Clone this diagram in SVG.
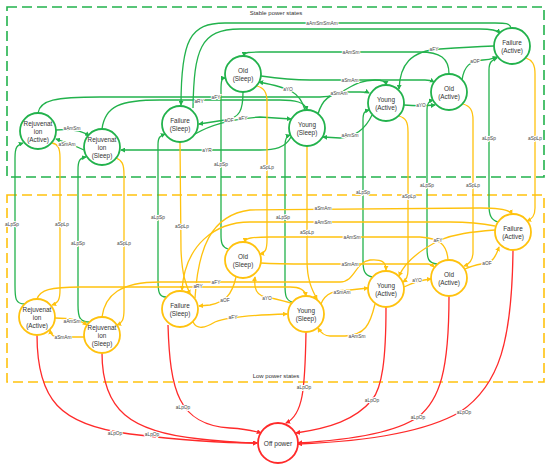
<svg xmlns="http://www.w3.org/2000/svg" width="550" height="464" viewBox="0 0 550 464">
<defs>
<style>
.nd circle{fill:#fff;stroke-width:1.8}
.gn circle{stroke:#22b24c}
.yn circle{stroke:#ffc20e}
.rn circle{stroke:#ff2a2a}
.c path{fill:none;stroke-width:1.3}
.c .g{stroke:#22b24c;marker-end:url(#ag)}
.c .y{stroke:#ffc20e;marker-end:url(#ay)}
.c .r{stroke:#ff2a2a;marker-end:url(#ar)}
text{font-family:"Liberation Sans",Arial,sans-serif;fill:#333}
.nl{font-size:6.4px;text-anchor:middle}
.el{font-size:4.8px;text-anchor:middle;fill:#444;paint-order:stroke;stroke:#fff;stroke-width:1.8px}
.bx{fill:none;stroke-width:1.6;stroke-dasharray:10 5}
.bl{font-size:6px;text-anchor:middle}
</style>
<marker id="ag" viewBox="0 0 6 6" refX="5" refY="3" markerWidth="5" markerHeight="5" markerUnits="userSpaceOnUse" orient="auto"><path d="M0,0 L6,3 L0,6 z" fill="#22b24c"/></marker>
<marker id="ay" viewBox="0 0 6 6" refX="5" refY="3" markerWidth="5" markerHeight="5" markerUnits="userSpaceOnUse" orient="auto"><path d="M0,0 L6,3 L0,6 z" fill="#ffc20e"/></marker>
<marker id="ar" viewBox="0 0 6 6" refX="5" refY="3" markerWidth="5" markerHeight="5" markerUnits="userSpaceOnUse" orient="auto"><path d="M0,0 L6,3 L0,6 z" fill="#ff2a2a"/></marker>
</defs>
<rect width="550" height="464" fill="#fff"/>
<g id="groups">
<rect class="bx" x="7" y="7" width="537" height="170" stroke="#22b24c"/>
<text class="bl" x="276" y="15">Stable power states</text>
<rect class="bx" x="7" y="195" width="537" height="187" stroke="#ffc20e"/>
<text class="bl" x="276" y="378">Low power states</text>
</g>
<g id="connectors" class="c">
<!-- top (stable) transitions -->
<path class="g" d="M56,130 C70,129 82,130 89,136"/>
<path class="g" d="M84,150 C76,146 66,142 56,139"/>
<path class="g" d="M38,113 C40,100 55,97 100,97 L320,97 C345,97 350,80 375,80 C383,80 386,82 386,85"/>
<path class="g" d="M102,129 C105,106 120,100 160,100 L280,100 C295,100 305,102 307,110"/>
<path class="g" d="M193,108 C194,50 200,29 240,29 L480,29 C492,29 497,30 500,33"/>
<path class="g" d="M511,28 C510,23 505,23 495,23 L225,23 C190,23 181,40 181,105"/>
<path class="g" d="M449,74 C449,58 440,52 420,52 L260,52 C250,52 244,52 244,56"/>
<path class="g" d="M261,76 C275,78 290,80 310,80 L425,80 C430,80 432,81 434,82"/>
<path class="g" d="M318,114 C322,100 330,93 345,92 L360,92 C365,92 367,92 369,93"/>
<path class="g" d="M372,115 C365,130 355,137 340,138 L323,137"/>
<path class="g" d="M404,105 C415,106 425,106 435,105"/>
<path class="g" d="M462,80 C464,66 470,61 483,60 C490,60 494,58 497,57"/>
<path class="g" d="M494,46 C470,47 455,48 440,49 C410,51 400,65 399,89"/>
<path class="g" d="M243,92 C243,110 240,118 225,120 L199,124"/>
<path class="g" d="M195,134 C210,125 230,119 260,117 L291,119"/>
<path class="g" d="M305,110 C300,92 290,88 259,82"/>
<path class="g" d="M291,137 C285,148 275,150 260,150 L121,150"/>
<!-- low -> stable -->
<path class="g" d="M25,304 C15,304 15,298 15,285 L15,158 C15,147 17,145 23,143"/>
<path class="g" d="M90,322 C80,322 78,318 78,305 L78,170 C78,160 80,158 86,157"/>
<path class="g" d="M166,297 C159,297 158,292 158,280 L158,145 C158,137 160,136 165,134"/>
<path class="g" d="M228,249 C222,247 221,243 221,235 L221,90 C221,80 222,78 225,78"/>
<path class="g" d="M292,302 C286,300 285,296 285,285 L285,145 C285,138 287,136 290,135"/>
<path class="g" d="M372,277 C364,275 363,270 363,260 L363,120 C363,112 365,111 369,110"/>
<path class="g" d="M437,264 C428,263 427,258 427,248 L427,110 C427,103 429,101 433,100"/>
<path class="g" d="M498,222 C491,220 489,215 489,205 L489,70 C489,62 492,60 497,58"/>
<!-- stable -> low -->
<path class="y" d="M52,143 C58,144 60,148 60,158 L60,290 C60,300 58,303 52,305"/>
<path class="y" d="M116,158 C122,160 124,164 124,175 L124,310 C124,320 122,323 117,325"/>
<path class="y" d="M180,142 L181,250 C182,275 186,285 190,294"/>
<path class="y" d="M257,86 C264,88 267,92 267,102 L267,240 C267,250 265,253 260,254"/>
<path class="y" d="M307,146 L307,260 C307,280 312,290 317,299"/>
<path class="y" d="M399,116 C406,118 408,122 408,132 L408,270 C408,277 406,280 403,282"/>
<path class="y" d="M463,104 C470,106 473,110 473,120 L473,252 C473,260 470,264 464,266"/>
<path class="y" d="M526,58 C532,60 535,64 535,74 L535,208 C535,216 532,219 527,221"/>
<!-- low power transitions -->
<path class="y" d="M55,318 C70,318 80,320 87,325"/>
<path class="y" d="M84,337 L60,337 C53,337 51,335 50,330"/>
<path class="y" d="M37,299 C40,290 50,287 80,287 L290,287 C300,287 305,290 306,296"/>
<path class="y" d="M102,317 C105,295 120,282 160,282 L340,282 C355,282 355,262 370,260 C382,259 386,262 386,270"/>
<path class="y" d="M495,226 C480,223 470,222 450,222 L250,222 C215,222 185,245 182,290"/>
<path class="y" d="M195,298 C198,250 210,215 250,210 L480,208 C500,208 510,210 512,214"/>
<path class="y" d="M236,277 C232,295 225,302 210,305 L199,306"/>
<path class="y" d="M193,322 C197,330 205,328 215,322 C225,318 250,315 287,314"/>
<path class="y" d="M291,303 C280,300 272,298 262,296 C255,293 254,285 255,277"/>
<path class="y" d="M448,260 C447,245 440,238 420,237 L270,237 C252,237 245,238 245,242"/>
<path class="y" d="M261,263 C275,264 290,264 310,264 L428,264 C431,264 432,265 434,267"/>
<path class="y" d="M321,304 C325,293 335,290 350,290 L368,288"/>
<path class="y" d="M375,304 C370,325 365,335 345,336 L330,336 C325,336 321,333 318,328"/>
<path class="y" d="M404,287 C412,283 420,280 431,279"/>
<path class="y" d="M465,269 C475,264 485,264 490,262 C496,258 497,252 499,247"/>
<path class="y" d="M495,230 C470,232 455,234 440,240 C420,250 405,262 399,276"/>
<!-- to off power -->
<path class="r" d="M37,335 C37,400 60,425 130,434 C180,440 225,443 257,443"/>
<path class="r" d="M102,353 C102,410 130,432 200,439 C230,442 245,443 257,443"/>
<path class="r" d="M168,325 C170,390 178,425 230,428 C245,429 252,430 261,433"/>
<path class="r" d="M306,332 C305,390 303,415 286,423"/>
<path class="r" d="M386,307 C386,360 382,388 372,400 C355,420 330,428 296,433"/>
<path class="r" d="M449,296 C449,370 440,400 418,417 C395,433 350,440 298,443"/>
<path class="r" d="M513,250 C512,340 500,385 460,412 C420,435 350,442 298,444"/>
<!-- labels -->
<text class="el" x="72" y="130">aAmSm</text>
<text class="el" x="67" y="146">aSmAm</text>
<text class="el" x="199" y="103">aRY</text>
<text class="el" x="216" y="99">aFY</text>
<text class="el" x="322" y="25">aAmSmSmAm</text>
<text class="el" x="351" y="54">aAmSm</text>
<text class="el" x="350" y="82">aSmAm</text>
<text class="el" x="339" y="95">aSmAm</text>
<text class="el" x="350" y="137">aAmSm</text>
<text class="el" x="421" y="107">aYO</text>
<text class="el" x="475" y="63">aOF</text>
<text class="el" x="434" y="51">aFY</text>
<text class="el" x="229" y="122">aOF</text>
<text class="el" x="243" y="120">aFY</text>
<text class="el" x="288" y="91">aYO</text>
<text class="el" x="207" y="152">aYR</text>
<text class="el" x="12" y="226">aLpSp</text>
<text class="el" x="78" y="245">aLpSp</text>
<text class="el" x="158" y="219">aLpSp</text>
<text class="el" x="221" y="166">aLpSp</text>
<text class="el" x="283" y="219">aLpSp</text>
<text class="el" x="363" y="194">aLpSp</text>
<text class="el" x="427" y="187">aLpSp</text>
<text class="el" x="489" y="140">aLpSp</text>
<text class="el" x="62" y="226">aSpLp</text>
<text class="el" x="124" y="245">aSpLp</text>
<text class="el" x="182" y="228">aSpLp</text>
<text class="el" x="267" y="169">aSpLp</text>
<text class="el" x="307" y="234">aSpLp</text>
<text class="el" x="409" y="198">aSpLp</text>
<text class="el" x="473" y="187">aSpLp</text>
<text class="el" x="535" y="140">aSpLp</text>
<text class="el" x="72" y="323">aAmSm</text>
<text class="el" x="63" y="339">aSmAm</text>
<text class="el" x="198" y="288">aRY</text>
<text class="el" x="216" y="284">aFY</text>
<text class="el" x="323" y="210">aSmAm</text>
<text class="el" x="323" y="224">aAmSm</text>
<text class="el" x="352" y="239">aAmSm</text>
<text class="el" x="350" y="266">aSmAm</text>
<text class="el" x="225" y="302">aOF</text>
<text class="el" x="233" y="319">aFY</text>
<text class="el" x="267" y="300">aYO</text>
<text class="el" x="342" y="294">aSmAm</text>
<text class="el" x="357" y="338">aAmSm</text>
<text class="el" x="417" y="282">aYO</text>
<text class="el" x="487" y="265">aOF</text>
<text class="el" x="438" y="242">aFY</text>
<text class="el" x="115" y="435">aLpOp</text>
<text class="el" x="152" y="436">aLpOp</text>
<text class="el" x="183" y="409">aLpOp</text>
<text class="el" x="304" y="389">aLpOp</text>
<text class="el" x="372" y="402">aLpOp</text>
<text class="el" x="418" y="419">aLpOp</text>
<text class="el" x="464" y="414">aLpOp</text>
</g>
<!-- stable nodes -->
<g id="rejuv-active-stable" class="nd gn"><circle cx="38" cy="131" r="18"/><text class="nl" x="38" y="125.5">Rejuvenat<tspan x="38" dy="8">ion</tspan><tspan x="38" dy="8">(Active)</tspan></text></g>
<g id="rejuv-sleep-stable" class="nd gn"><circle cx="102" cy="147" r="18"/><text class="nl" x="102" y="141.5">Rejuvenat<tspan x="102" dy="8">ion</tspan><tspan x="102" dy="8">(Sleep)</tspan></text></g>
<g id="failure-sleep-stable" class="nd gn"><circle cx="180" cy="124" r="18"/><text class="nl" x="180" y="122.5">Failure<tspan x="180" dy="8.5">(Sleep)</tspan></text></g>
<g id="old-sleep-stable" class="nd gn"><circle cx="243" cy="74" r="18"/><text class="nl" x="243" y="72.5">Old<tspan x="243" dy="8.5">(Sleep)</tspan></text></g>
<g id="young-sleep-stable" class="nd gn"><circle cx="307" cy="128" r="18"/><text class="nl" x="307" y="126.5">Young<tspan x="307" dy="8.5">(Sleep)</tspan></text></g>
<g id="young-active-stable" class="nd gn"><circle cx="386" cy="103" r="18"/><text class="nl" x="386" y="101.5">Young<tspan x="386" dy="8.5">(Active)</tspan></text></g>
<g id="old-active-stable" class="nd gn"><circle cx="449" cy="92" r="18"/><text class="nl" x="449" y="90.5">Old<tspan x="449" dy="8.5">(Active)</tspan></text></g>
<g id="failure-active-stable" class="nd gn"><circle cx="512" cy="46" r="18"/><text class="nl" x="512" y="44.5">Failure<tspan x="512" dy="8.5">(Active)</tspan></text></g>
<!-- low power nodes -->
<g id="rejuv-active-low" class="nd yn"><circle cx="37" cy="317" r="18"/><text class="nl" x="37" y="311.5">Rejuvenat<tspan x="37" dy="8">ion</tspan><tspan x="37" dy="8">(Active)</tspan></text></g>
<g id="rejuv-sleep-low" class="nd yn"><circle cx="102" cy="335" r="18"/><text class="nl" x="102" y="329.5">Rejuvenat<tspan x="102" dy="8">ion</tspan><tspan x="102" dy="8">(Sleep)</tspan></text></g>
<g id="failure-sleep-low" class="nd yn"><circle cx="180" cy="309" r="18"/><text class="nl" x="180" y="307.5">Failure<tspan x="180" dy="8.5">(Sleep)</tspan></text></g>
<g id="old-sleep-low" class="nd yn"><circle cx="243" cy="260" r="18"/><text class="nl" x="243" y="258.5">Old<tspan x="243" dy="8.5">(Sleep)</tspan></text></g>
<g id="young-sleep-low" class="nd yn"><circle cx="306" cy="314" r="18"/><text class="nl" x="306" y="312.5">Young<tspan x="306" dy="8.5">(Sleep)</tspan></text></g>
<g id="young-active-low" class="nd yn"><circle cx="386" cy="289" r="18"/><text class="nl" x="386" y="287.5">Young<tspan x="386" dy="8.5">(Active)</tspan></text></g>
<g id="old-active-low" class="nd yn"><circle cx="449" cy="278" r="18"/><text class="nl" x="449" y="276.5">Old<tspan x="449" dy="8.5">(Active)</tspan></text></g>
<g id="failure-active-low" class="nd yn"><circle cx="513" cy="232" r="18"/><text class="nl" x="513" y="230.5">Failure<tspan x="513" dy="8.5">(Active)</tspan></text></g>
<!-- off power -->
<g id="off-power" class="nd rn"><circle cx="278" cy="443" r="20"/><text class="nl" x="278" y="445.5" style="font-size:6.6px">Off power</text></g>
</svg>
